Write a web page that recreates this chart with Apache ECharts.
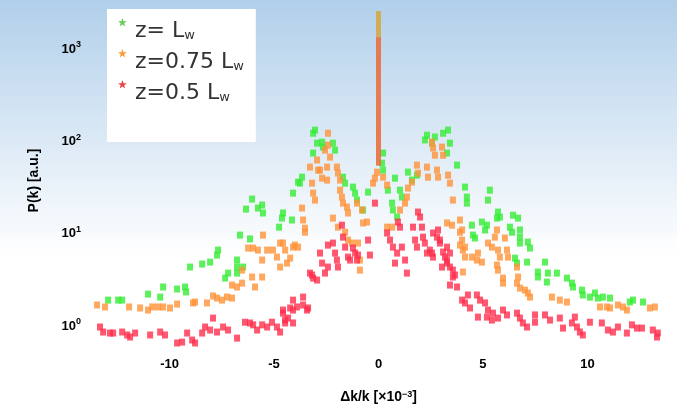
<!DOCTYPE html>
<html><head><meta charset="utf-8">
<script src="https://cdn.jsdelivr.net/npm/echarts@6/dist/echarts.min.js"></script>
<style>html,body{margin:0;padding:0;background:#fff}#c{width:677px;height:413px}</style>
</head><body><div id="c"></div>
<script>
// ---- data ----
const seriesNames = ['z= Lw', 'z=0.75 Lw', 'z=0.5 Lw'];
const xTicks = [-10, -5, 0, 5, 10];
const yTickExponents = [0, 1, 2, 3];
// central spike (at Δk = 0): base and top value per series
const spikeX = [0, 0, 0];
const spikeBase = [55, 55, 55];
const spikeTop = [2600, 2600, 1350];

const greenPts = [[-12.94,1.91],[-12.46,1.91],[-12.27,1.91],[-11.03,2.22],[-10.45,2.06],[-10.31,2.65],[-9.64,2.52],[-9.26,2.65],[-9.21,2.34],[-9.02,4.36],[-8.44,4.7],[-8.06,4.93],[-7.73,5.88],[-7.68,6.66],[-7.34,3.31],[-7.20,3.75],[-6.77,5.19],[-6.77,4.36],[-6.77,3.75],[-6.63,9.68],[-6.48,4.36],[-6.34,18.5],[-6.15,8.8],[-6.05,23.8],[-5.77,19.0],[-5.57,20.5],[-5.53,16.8],[-4.76,11.8],[-4.62,14.8],[-4.57,16.8],[-4.14,14.1],[-4.09,27.6],[-3.85,36.3],[-3.76,35.4],[-3.66,41.1],[-3.13,75],[-3.13,123],[-3.04,133],[-2.94,96],[-2.70,98.5],[-2.66,87],[-2.18,96],[-2.08,80.7],[-1.70,41.1],[-1.60,35.4],[-1.22,32.1],[-1.12,27.6],[-1.03,23.2],[-0.74,18.1],[-0.50,28.3],[0.17,58.3],[0.22,75],[0.22,49],[0.45,29.7],[0.65,21.5],[0.69,18.1],[0.79,40.1],[0.89,15.2],[1.03,29.7],[1.12,25.0],[1.41,46.6],[1.60,38.2],[1.84,43.2],[2.22,104],[2.32,117],[2.56,96],[2.70,112],[3.09,123],[3.28,75],[3.33,133],[3.42,96],[3.76,55.5],[4.14,32.1],[4.23,25.0],[4.23,21.5],[4.47,12.4],[4.52,9.68],[4.62,9.0],[4.95,13.4],[5.10,11.0],[5.19,12.4],[5.24,23.2],[5.33,29.7],[5.67,14.8],[5.72,17.2],[5.81,15.2],[6.29,11.8],[6.39,10.4],[6.44,15.9],[6.53,5.45],[6.63,4.81],[6.68,14.8],[6.77,11.0],[6.77,9.2],[6.77,7.93],[7.11,4.93],[7.15,8.13],[7.25,7.0],[7.63,3.85],[7.63,3.40],[7.97,4.93],[8.06,3.0],[8.11,3.75],[8.54,3.75],[9.02,3.31],[9.26,2.92],[9.31,2.65],[9.74,2.45],[9.78,2.17],[10.12,2.06],[10.36,2.28],[10.50,2.01],[10.74,2.06],[11.08,2.01],[12.03,1.82],[12.18,1.91],[12.66,1.82]];

const orangePts = [[-13.47,1.69],[-13.09,1.61],[-11.94,1.61],[-11.41,1.57],[-11.03,1.49],[-10.83,1.61],[-10.55,1.61],[-10.31,1.61],[-9.98,1.57],[-9.64,1.73],[-8.88,1.78],[-8.78,1.82],[-8.21,1.78],[-7.92,2.12],[-7.73,2.01],[-7.49,1.91],[-7.25,2.06],[-7.01,2.01],[-7.01,2.78],[-6.77,2.65],[-6.53,2.92],[-6.53,4.04],[-6.24,7.0],[-6.05,3.40],[-6.00,7.0],[-5.91,2.65],[-5.77,6.66],[-5.57,5.19],[-5.57,3.40],[-5.53,9.68],[-5.33,6.66],[-5.05,6.66],[-4.86,5.59],[-4.71,4.36],[-4.71,7.93],[-4.57,7.93],[-4.47,6.66],[-4.38,4.81],[-4.23,5.45],[-4.09,7.17],[-4.00,7.54],[-3.85,7.17],[-3.66,19.0],[-3.61,14.1],[-3.52,11.5],[-3.52,10.4],[-3.28,52.8],[-3.18,35.4],[-3.13,27.6],[-3.04,23.2],[-2.94,63],[-2.89,49],[-2.80,49],[-2.70,40.1],[-2.56,80.7],[-2.46,52.8],[-2.46,38.2],[-2.42,123],[-2.42,91.4],[-2.32,67.8],[-2.18,14.8],[-1.99,52.8],[-1.94,45.4],[-1.94,11.8],[-1.84,38.2],[-1.84,29.7],[-1.75,25.0],[-1.70,21.5],[-1.60,10.4],[-1.51,19.5],[-1.46,16.8],[-1.46,8.55],[-1.27,7.93],[-1.03,21.5],[-0.98,7.93],[-0.89,5.19],[-0.89,4.04],[-0.79,18.1],[-0.74,13.1],[-0.55,13.4],[-0.26,35.4],[-0.17,40.1],[-0.07,46.6],[0.22,41.1],[0.41,33.7],[0.41,11.8],[0.65,11.8],[1.03,18.1],[1.27,21.5],[1.36,25.0],[1.41,31.3],[1.60,36.3],[1.84,55.5],[1.89,45.4],[2.32,52.8],[2.37,41.1],[2.56,98.5],[2.61,85],[2.70,71],[2.80,49],[2.85,41.1],[3.04,87],[3.09,71],[3.28,13.1],[3.33,43.2],[3.42,35.4],[3.52,12.4],[3.56,23.2],[3.90,14.1],[3.90,10.4],[3.90,7.54],[4.00,11.0],[4.00,8.55],[4.04,6.66],[4.04,3.85],[4.14,7.17],[4.14,5.59],[4.47,5.59],[4.71,5.19],[4.76,6.18],[4.95,4.93],[5.24,7.93],[5.43,7.17],[5.57,9.2],[5.67,11.0],[5.67,4.58],[5.72,6.66],[5.72,4.04],[5.81,5.59],[5.96,3.31],[5.96,2.92],[6.05,9.0],[6.15,6.66],[6.20,5.59],[6.63,4.36],[6.63,2.92],[6.68,3.40],[6.77,2.58],[7.01,2.45],[7.15,2.28],[7.25,2.06],[8.30,2.06],[8.68,1.91],[9.02,1.82],[10.60,1.61],[10.93,1.61],[11.08,1.57],[11.46,1.69],[11.70,1.61],[11.89,1.49],[12.99,1.57],[13.23,1.61]];

const redPts = [[-13.33,0.976],[-13.18,0.861],[-12.85,0.84],[-12.70,0.84],[-12.27,0.861],[-12.03,0.80],[-11.89,0.76],[-11.65,0.84],[-10.93,0.80],[-10.45,0.861],[-10.22,0.80],[-9.64,0.655],[-9.40,0.67],[-9.16,0.84],[-8.92,0.705],[-8.78,0.655],[-8.44,0.84],[-8.30,0.976],[-8.06,0.905],[-7.92,1.22],[-7.73,0.861],[-7.44,0.976],[-7.20,0.905],[-6.77,0.74],[-6.39,1.10],[-6.15,1.08],[-6.00,1.03],[-5.81,0.905],[-5.57,1.03],[-5.33,0.976],[-5.10,1.10],[-4.86,0.976],[-4.71,0.861],[-4.57,1.49],[-4.57,1.38],[-4.47,1.08],[-4.47,1.16],[-4.33,1.22],[-4.23,1.57],[-4.09,1.08],[-4.09,1.49],[-4.09,1.91],[-3.90,1.61],[-3.61,2.06],[-3.61,1.69],[-3.42,1.49],[-3.37,1.57],[-3.28,3.75],[-3.18,3.57],[-3.13,3.31],[-2.94,3.15],[-2.80,6.18],[-2.70,4.81],[-2.56,3.75],[-2.42,7.54],[-2.42,4.36],[-2.18,7.93],[-2.08,6.18],[-1.99,5.19],[-1.94,4.36],[-1.75,12.4],[-1.70,9.2],[-1.60,7.17],[-1.46,5.59],[-1.36,5.19],[-1.22,7.0],[-1.12,6.18],[-1.03,5.19],[-0.98,5.88],[-0.50,8.55],[-0.41,5.88],[-0.17,21.5],[0.41,10.2],[0.55,8.55],[0.69,7.17],[0.79,4.81],[0.89,6.18],[0.93,13.4],[1.03,11.8],[1.12,7.17],[1.27,5.19],[1.36,3.75],[1.65,11.8],[1.75,8.55],[1.84,7.17],[1.89,17.2],[1.99,15.2],[2.08,11.8],[2.13,9.2],[2.22,7.93],[2.32,6.18],[2.46,6.66],[2.56,6.18],[2.61,5.59],[2.61,10.2],[2.80,9.2],[2.85,11.0],[2.94,7.93],[2.94,8.55],[3.04,4.36],[3.09,6.34],[3.18,5.59],[3.28,7.17],[3.28,5.19],[3.28,4.81],[3.42,6.18],[3.42,4.36],[3.42,2.78],[3.56,4.04],[3.56,3.40],[3.66,3.57],[3.76,2.65],[4.00,1.91],[4.14,1.78],[4.28,2.17],[4.38,1.57],[4.71,2.17],[4.76,1.25],[4.86,1.91],[5.10,1.78],[5.19,1.25],[5.24,1.49],[5.43,1.16],[5.48,1.38],[5.72,1.22],[5.96,1.49],[6.15,1.32],[6.63,1.38],[6.77,1.22],[6.91,1.08],[7.11,0.976],[7.49,1.32],[7.49,1.10],[7.97,1.32],[8.21,1.16],[8.68,1.22],[8.83,0.95],[9.26,1.08],[9.40,1.25],[9.50,0.976],[9.64,0.861],[9.78,0.80],[10.12,1.10],[10.69,1.08],[10.98,0.905],[11.22,0.861],[11.46,0.976],[11.89,0.84],[12.13,1.03],[12.37,0.95],[12.61,0.95],[13.13,0.905],[13.33,0.76],[13.37,0.84]];

const allPts = [greenPts, orangePts, redPts];
const pointColors = ['rgb(52,236,52)', 'rgb(255,146,56)', 'rgb(255,46,76)'];
const spikeOpacity = [0.45, 0.65, 0.4];
const legendColors = ['#66cc55', '#ff9933', '#e84444'];

// ---- chart ----
const chart = echarts.init(document.getElementById('c'), null, {renderer: 'canvas'});
const star = 'path://M5 0 L6.18 3.38 L9.76 3.45 L6.9 5.62 L7.94 9.05 L5 7 L2.06 9.05 L3.1 5.62 L0.24 3.45 L3.82 3.38 Z M5 28';

const scatterSeries = allPts.map((pts, i) => ({
  name: seriesNames[i], type: 'scatter', data: pts,
  symbol: 'rect', symbolSize: [6, 7],
  itemStyle: {color: pointColors[i], opacity: 0.8},
  z: 2 + i
}));
const spikeSeries = [0, 1, 2].map((i) => ({
  name: seriesNames[i], type: 'line', symbol: 'none',
  data: [[spikeX[i], spikeBase[i]], [spikeX[i], spikeTop[i]]],
  lineStyle: {color: pointColors[i], width: 5, opacity: spikeOpacity[i], cap: 'butt'},
  z: 6 + i
}));

const option = {
  animation: false,
  backgroundColor: new echarts.graphic.LinearGradient(0, 0, 0, 1, [
    {offset: 0, color: '#b1cfea'}, {offset: 0.62, color: '#ffffff'}, {offset: 1, color: '#ffffff'}
  ]),
  grid: {left: 86, right: 6, top: 11, bottom: 63},
  legend: {
    left: 107, top: 9, orient: 'vertical', backgroundColor: '#ffffff',
    padding: [9, 12, 36, 11], itemGap: 5, itemWidth: 9, itemHeight: 26,
    selectedMode: false,
    data: seriesNames.map((n, i) => ({name: n, icon: star, itemStyle: {color: legendColors[i], opacity: 1}})),
    formatter: n => n.replace(/Lw$/, 'L{sub|w}'),
    textStyle: {
      fontSize: 22, color: '#333', fontFamily: 'DejaVu Sans', padding: [0, 0, 0, 3],
      rich: {sub: {fontSize: 13, color: '#333', fontFamily: 'DejaVu Sans', verticalAlign: 'bottom', padding: [0, 0, 0, 0]}}
    }
  },
  xAxis: {
    type: 'value', min: -14, max: 14,
    axisLine: {show: false}, axisTick: {show: false}, splitLine: {show: false},
    axisLabel: {
      margin: 8, color: '#000', fontWeight: 'bold', fontSize: 13, fontFamily: 'Liberation Sans',
      formatter: v => xTicks.indexOf(v) >= 0 ? String(v) : ''
    },
    name: '{n|Δk/k [×10}{s|−3}{n|]}', nameLocation: 'middle', nameGap: 40,
    nameTextStyle: {
      rich: {
        n: {fontSize: 14, fontWeight: 'bold', color: '#000', fontFamily: 'Liberation Sans'},
        s: {fontSize: 9, fontWeight: 'bold', color: '#000', fontFamily: 'Liberation Sans', verticalAlign: 'top'}
      }
    }
  },
  yAxis: {
    type: 'log', logBase: 10, min: 0.55, max: 2600,
    axisLine: {show: false}, axisTick: {show: false}, splitLine: {show: false},
    axisLabel: {
      margin: 5,
      formatter: v => {
        const e = Math.log10(v), r = Math.round(e);
        if (Math.abs(e - r) > 1e-6 || yTickExponents.indexOf(r) < 0) return '';
        return '{b|10}{s|' + r + '}';
      },
      rich: {
        b: {fontSize: 13, fontWeight: 'bold', color: '#000', fontFamily: 'Liberation Sans', lineHeight: 18},
        s: {fontSize: 9, fontWeight: 'bold', color: '#000', fontFamily: 'Liberation Sans', verticalAlign: 'top'}
      }
    },
    name: 'P(k) [a.u.]', nameLocation: 'middle', nameRotate: 90, nameGap: 45,
    nameTextStyle: {fontSize: 14, fontWeight: 'bold', color: '#000', fontFamily: 'Liberation Sans'}
  },
  series: scatterSeries.concat(spikeSeries)
};
chart.setOption(option);
</script>
</body></html>
